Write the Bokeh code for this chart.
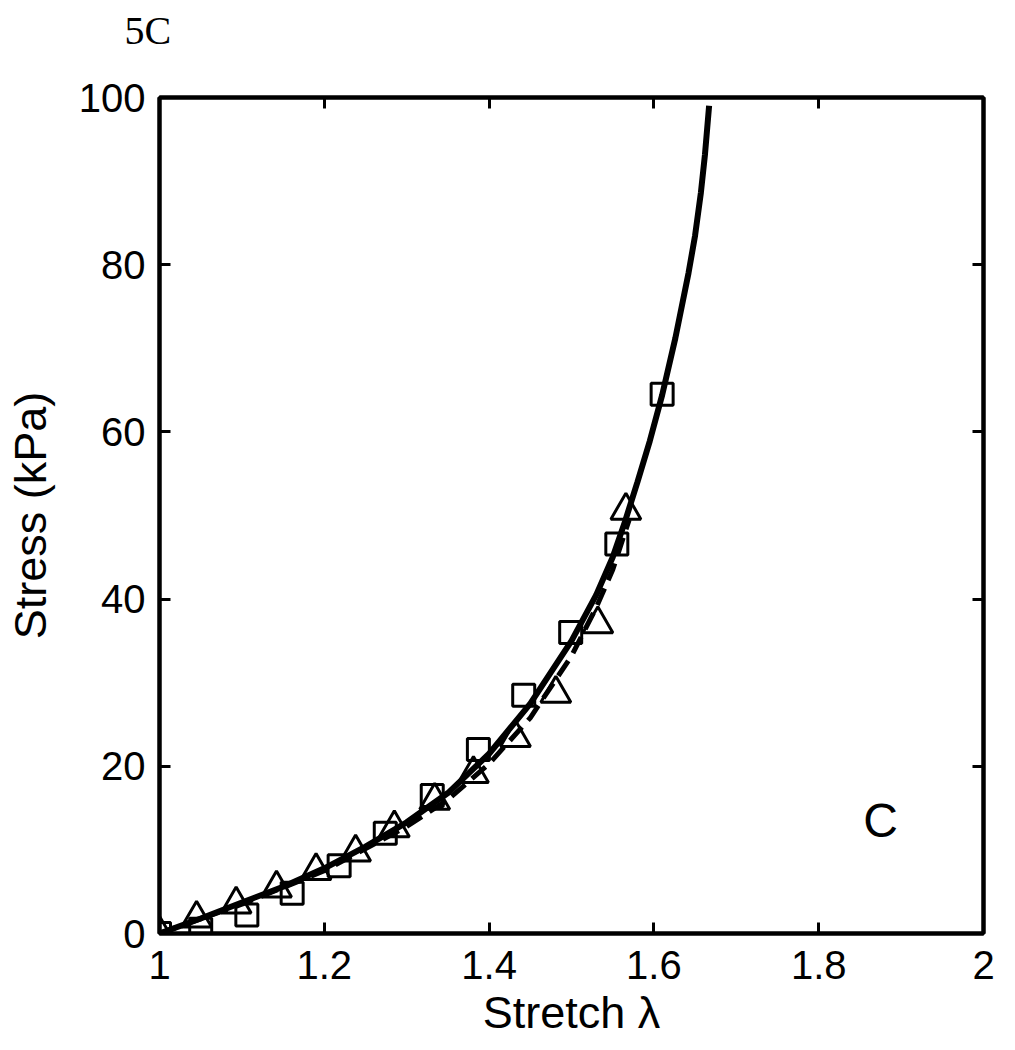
from bokeh.plotting import figure
from bokeh.models import LinearAxis, Range1d, Label, FixedTicker, CustomJSTickFormatter
from bokeh.embed import file_html
from bokeh.resources import INLINE

# ---- data ----
sq_stretch = [1.0, 1.05, 1.106, 1.161, 1.218, 1.274, 1.331, 1.387, 1.442, 1.499, 1.555, 1.610]
sq_stress = [0.0, 0.5, 2.2, 4.8, 8.1, 12.0, 16.5, 22.0, 28.5, 36.0, 46.6, 64.5]

tri_stretch = [1.0, 1.045, 1.093, 1.142, 1.19, 1.238, 1.285, 1.334, 1.381, 1.432, 1.481, 1.532, 1.566]
tri_stress = [0.0, 1.8, 3.5, 5.4, 7.5, 9.7, 12.6, 15.9, 19.1, 23.4, 28.7, 37.0, 50.6]

fit_solid_stretch = [1.0, 1.05, 1.1, 1.15, 1.2, 1.25, 1.3, 1.35, 1.4, 1.45, 1.5, 1.53,
                     1.55, 1.565, 1.58, 1.595, 1.61, 1.626, 1.642, 1.65, 1.657, 1.662, 1.667]
fit_solid_stress = [0.0, 1.8, 3.7, 5.6, 7.8, 10.4, 13.3, 16.8, 21.5, 27.5, 35.0, 40.5,
                    45.0, 49.3, 54.0, 58.9, 64.4, 71.2, 79.0, 83.5, 88.6, 93.2, 99.0]

fit_dash_stretch = [1.0, 1.1, 1.2, 1.3, 1.35, 1.4, 1.45, 1.5, 1.53, 1.55, 1.57]
fit_dash_stress = [0.0, 3.5, 7.5, 12.8, 16.0, 20.3, 25.8, 33.2, 39.0, 43.5, 49.5]

x_ticks = [1.0, 1.2, 1.4, 1.6, 1.8, 2.0]
y_ticks = [0, 20, 40, 60, 80, 100]

FONT = "Liberation Sans"

p = figure(width=1000, height=1050, output_backend="svg", toolbar_location=None,
           x_range=Range1d(1, 2), y_range=Range1d(0, 100),
           min_border_left=159, min_border_right=17, min_border_top=97, min_border_bottom=117,
           title="5C\n ")
p.grid.visible = False
p.outline_line_color = "black"
p.outline_line_width = 4
p.background_fill_color = "white"
p.border_fill_color = "white"

p.title.text_font = "Liberation Serif"
p.title.text_font_size = "40px"
p.title.text_font_style = "normal"
p.title.text_color = "black"
p.title.align = "left"
p.title.offset = -35
p.title.standoff = 0
p.title.vertical_align = "bottom"

def style_axis(ax, ticks, show_labels=True):
    ax.ticker = FixedTicker(ticks=ticks)
    ax.axis_line_width = 4
    ax.axis_line_color = "black"
    ax.major_tick_in = 11
    ax.major_tick_out = 0
    ax.major_tick_line_width = 3
    ax.minor_tick_line_color = None
    ax.major_label_text_font = FONT
    ax.major_label_text_color = "black"
    ax.major_label_text_font_size = "40px"
    if not show_labels:
        ax.formatter = CustomJSTickFormatter(code="return ''")
        ax.major_label_standoff = 0

xa = p.xaxis[0]
style_axis(xa, x_ticks)
xa.major_label_standoff = 17
xa.axis_label = "Stretch λ"
xa.axis_label_text_font = FONT
xa.axis_label_text_font_size = "45px"
xa.axis_label_text_font_style = "normal"
xa.axis_label_standoff = 5
xa.axis_label_text_color = "black"

ya = p.yaxis[0]
style_axis(ya, y_ticks)
ya.major_label_standoff = 14
ya.axis_label = "Stress (kPa)"
ya.axis_label_text_font = FONT
ya.axis_label_text_font_size = "45px"
ya.axis_label_text_font_style = "normal"
ya.axis_label_standoff = 20
ya.axis_label_text_color = "black"

top = LinearAxis()
style_axis(top, x_ticks, show_labels=False)
p.add_layout(top, "above")
right = LinearAxis()
style_axis(right, y_ticks, show_labels=False)
p.add_layout(right, "right")

p.line(fit_dash_stretch, fit_dash_stress, line_color="black", line_width=5, line_dash="18 9")
p.line(fit_solid_stretch, fit_solid_stress, line_color="black", line_width=6)

p.scatter(sq_stretch, sq_stress, marker="square", size=22, fill_color=None,
          line_color="black", line_width=3)
p.scatter(tri_stretch, tri_stress, marker="triangle", size=30, fill_color=None,
          line_color="black", line_width=3)

p.add_layout(Label(x=1.854, y=13.5, text="C", text_font=FONT, text_font_size="48px",
                   text_color="black", text_baseline="alphabetic", text_align="left"))

open("out.html", "w").write(file_html(p, INLINE))
